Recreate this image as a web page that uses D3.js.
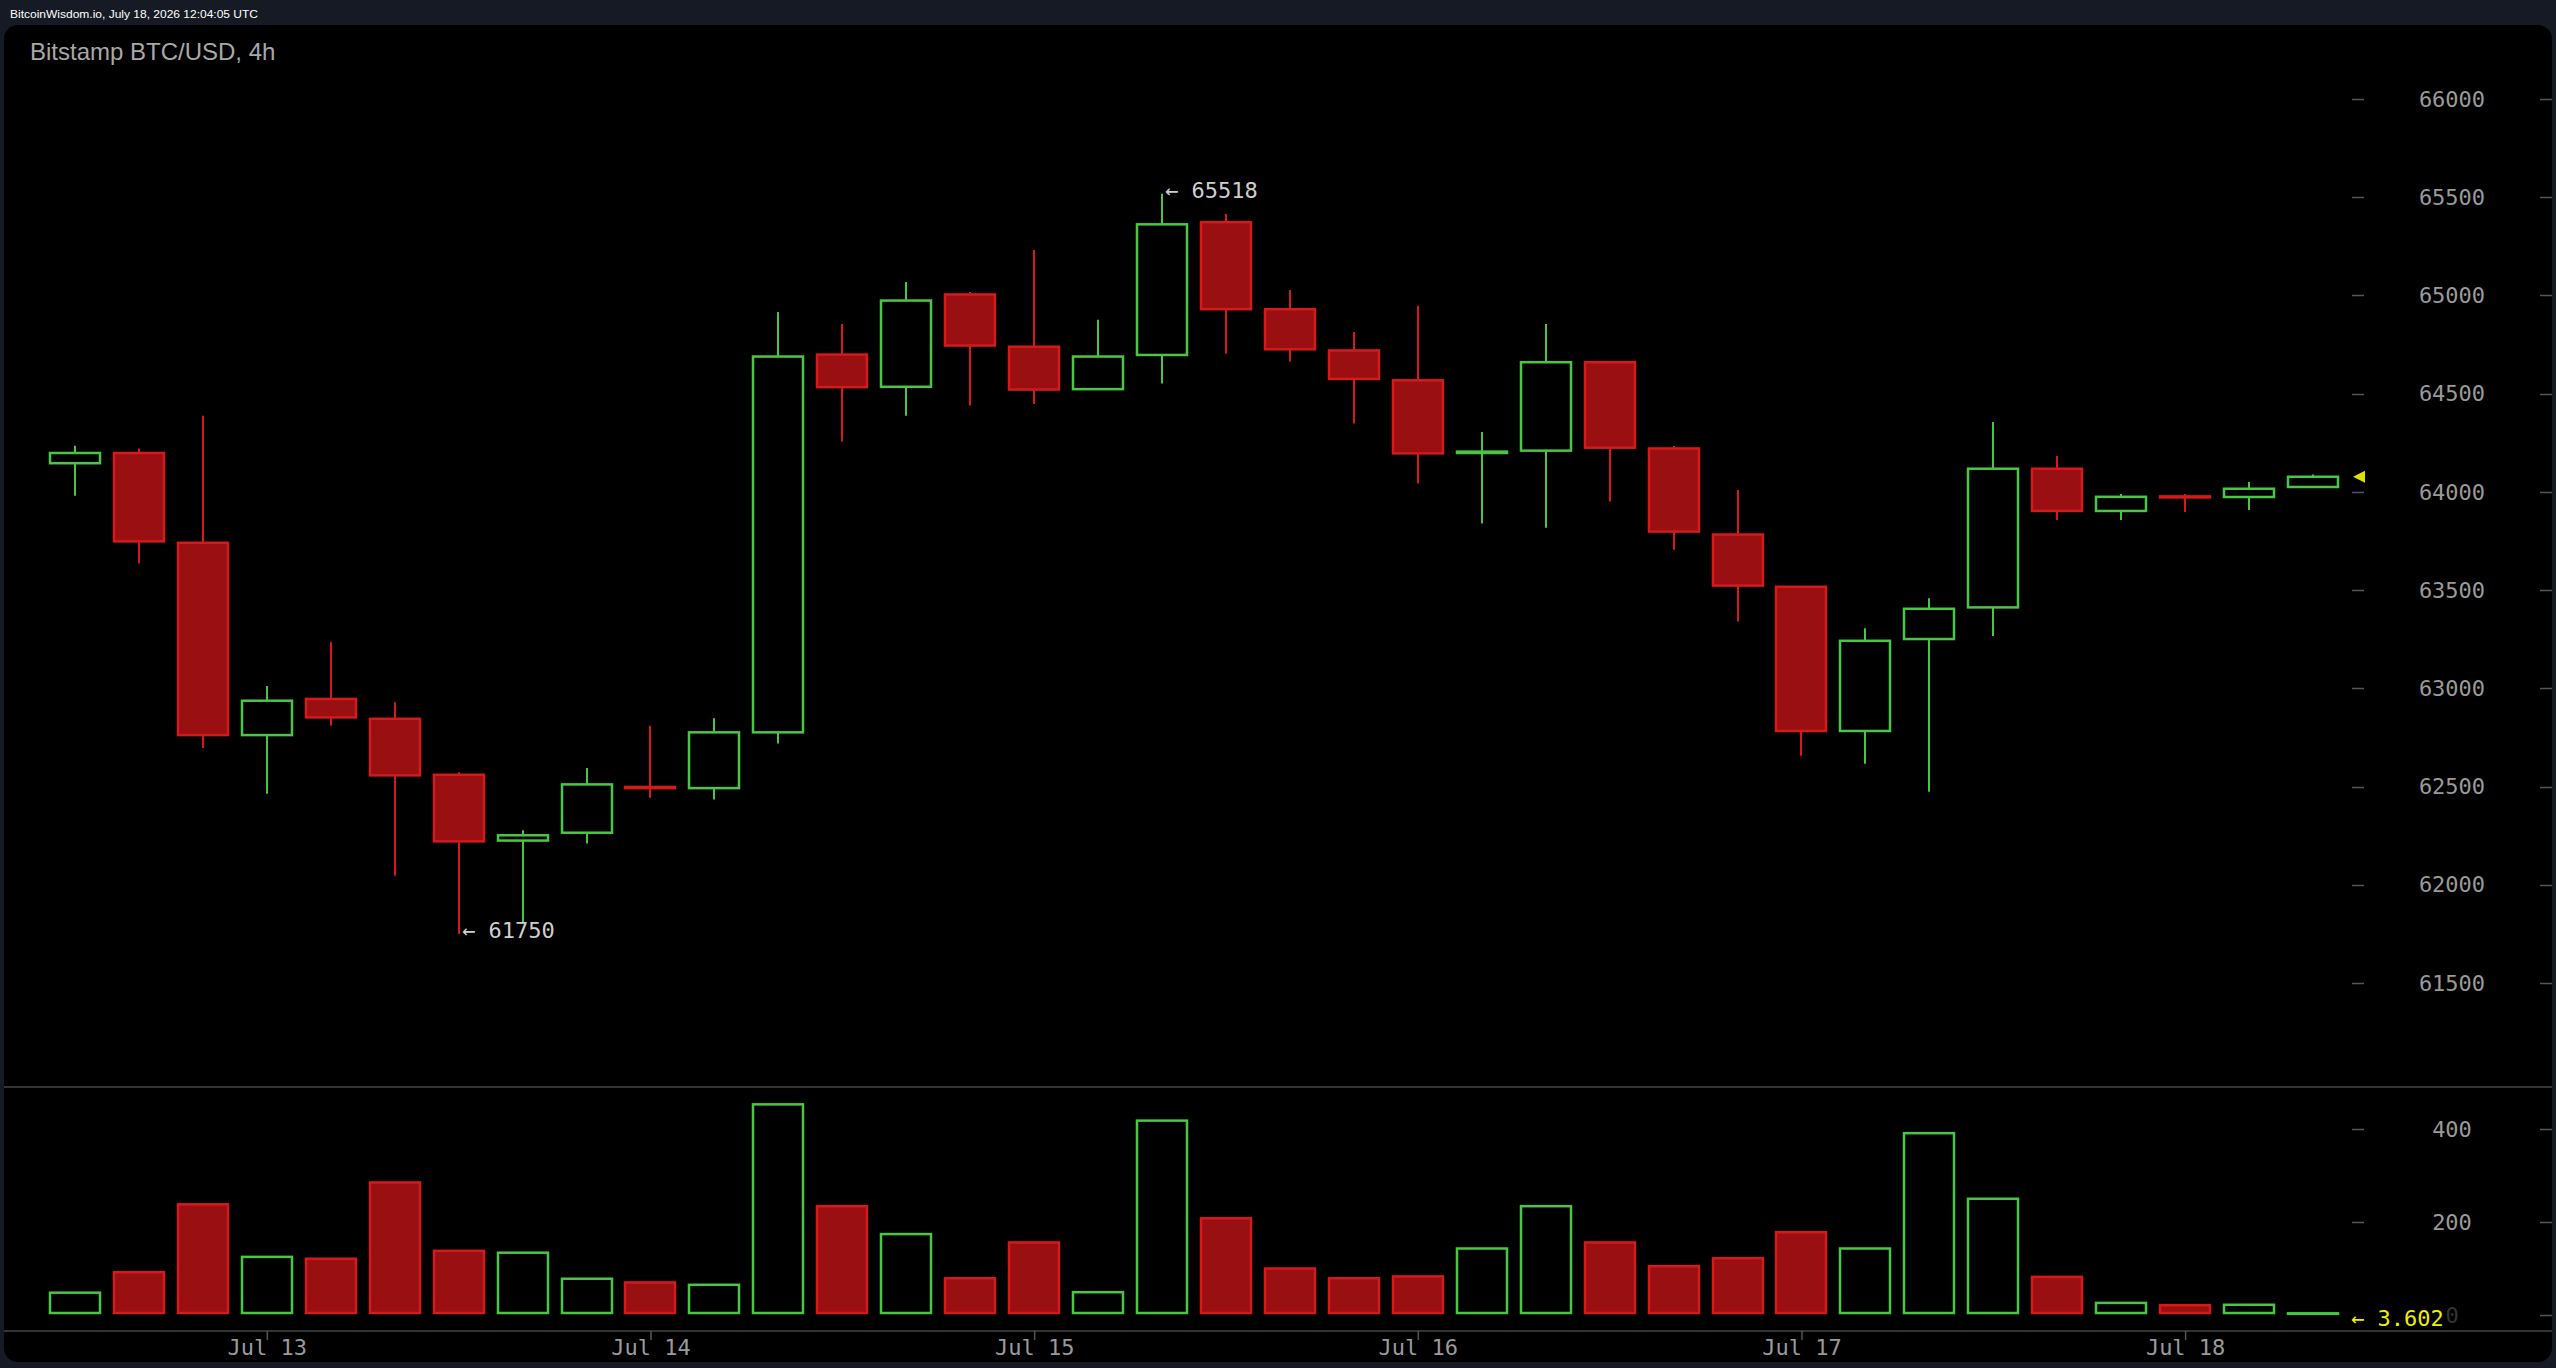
<!DOCTYPE html>
<html>
<head>
<meta charset="utf-8">
<script src="https://cdn.jsdelivr.net/npm/d3@7"></script>
<style>
  html, body { margin: 0; padding: 0; background: #161a24; }
  svg { display: block; }
</style>
</head>
<body>
<svg id="chart" width="2556" height="1368"></svg>
<script>
// ---------------- DATA ----------------
const title = "Bitstamp BTC/USD, 4h";
const headerText = "BitcoinWisdom.io, July 18, 2026 12:04:05 UTC";
const startTime = "2026-07-12T12:00:00Z";   // first 4h candle
const intervalHours = 4;

const open  = [64146,64198,63741,62762,62946,62845,62560,62225,62265,62498,62492,62776,64699,64535,65005,64739,64523,64697,65373,64930,64720,64568,64198,64210,64660,64221,63783,63517,62783,63251,63412,64118,63903,63977,63974,64025];
const high  = [64235,64221,64387,63012,63236,62929,62573,62278,62594,62809,62848,64916,64855,65069,65017,65231,64876,65518,65414,65028,64814,64947,64305,64855,64662,64234,64010,63520,63306,63458,64356,64183,63989,63989,64050,64089];
const low   = [63980,63635,62696,62464,62809,62046,61750,61811,62210,62443,62434,62719,64257,64388,64440,64448,64520,64552,64703,64664,64348,64043,63839,63818,63951,63706,63340,62657,62616,62474,63266,63857,63857,63898,63908,64020];
const close = [64198,63748,62762,62937,62852,62557,62221,62252,62511,62492,62776,64689,64533,64974,64745,64521,64689,65362,64930,64726,64575,64196,64205,64660,64225,63798,63523,62783,63242,63405,64118,63903,63975,63972,64016,64077];
const volume = [48,92,238,125,121,285,138,134,78,70,65,453,234,174,79,156,49,418,208,100,79,83,143,234,156,105,122,178,143,391,250,82,26,21,22,3.602];

const priceTicks = [61500,62000,62500,63000,63500,64000,64500,65000,65500,66000];
const volumeTicks = [0,200,400];
const highLabel = 65518;
const lowLabel = 61750;
const lastVolumeLabel = "3.602";

// ---------------- STYLE ----------------
const GREEN = "#4ac545";
const RED_STROKE = "#d41a1a";
const RED_FILL = "#9a0f12";
const MONO = "'DejaVu Sans Mono', monospace";

const t0 = new Date(startTime);
const times = open.map((_, i) => d3.utcHour.offset(t0, i * intervalHours));
const candles = times.map((t, i) => ({t, o: open[i], h: high[i], l: low[i], c: close[i], v: volume[i], i}));

const svg = d3.select("#chart");

// scales
const x = d3.scaleUtc().domain([times[0], times[times.length - 1]]).range([75, 2313]);
const y = d3.scaleLinear().domain([61500, 66000]).range([983, 99]);
const yv = d3.scaleLinear().domain([0, 400]).range([1315, 1129]);

// header text
svg.append("text").attr("x", 10).attr("y", 18)
  .attr("fill", "#ffffff").attr("font-family", "'Liberation Sans', Arial, sans-serif")
  .attr("font-size", 11).attr("textLength", 248).attr("lengthAdjust", "spacingAndGlyphs")
  .text(headerText);

// panel
svg.append("rect").attr("x", 4).attr("y", 25).attr("width", 2548).attr("height", 1337)
  .attr("rx", 14).attr("fill", "#000");

// title
svg.append("text").attr("x", 30).attr("y", 60)
  .attr("fill", "#a8a8a8").attr("font-family", "'Liberation Sans', Arial, sans-serif")
  .attr("font-size", 24).text(title);

// separator lines
svg.append("line").attr("x1", 4).attr("x2", 2552).attr("y1", 1087).attr("y2", 1087)
  .attr("stroke", "#444").attr("stroke-width", 1.5);
svg.append("line").attr("x1", 4).attr("x2", 2552).attr("y1", 1331).attr("y2", 1331)
  .attr("stroke", "#444").attr("stroke-width", 1.5);

// price axis (labels centered, ticks on both sides)
const pa = svg.append("g");
priceTicks.forEach(v => {
  const yy = Math.round(y(v)) + 0.5;
  pa.append("line").attr("x1", 2352).attr("x2", 2364).attr("y1", yy).attr("y2", yy).attr("stroke", "#555").attr("stroke-width", 1.5);
  pa.append("line").attr("x1", 2540).attr("x2", 2552).attr("y1", yy).attr("y2", yy).attr("stroke", "#555").attr("stroke-width", 1.5);
  pa.append("text").attr("x", 2452).attr("y", y(v)).attr("dy", "0.35em")
    .attr("text-anchor", "middle").attr("fill", "#9a9a9a")
    .attr("font-family", MONO).attr("font-size", 22).text(v);
});

// volume axis
volumeTicks.forEach(v => {
  const yy = Math.round(yv(v)) + 0.5;
  if (v !== 0) pa.append("line").attr("x1", 2352).attr("x2", 2364).attr("y1", yy).attr("y2", yy).attr("stroke", "#555").attr("stroke-width", 1.5);
  pa.append("line").attr("x1", 2540).attr("x2", 2552).attr("y1", yy).attr("y2", yy).attr("stroke", "#555").attr("stroke-width", 1.5);
  pa.append("text").attr("x", 2452).attr("y", yv(v)).attr("dy", "0.35em")
    .attr("text-anchor", "middle").attr("fill", v === 0 ? "#333" : "#9a9a9a")
    .attr("font-family", MONO).attr("font-size", 22).text(v);
});

// x axis
const xAxis = d3.axisBottom(x).ticks(d3.utcDay.every(1)).tickFormat(d3.utcFormat("%b %d"))
  .tickSize(9).tickPadding(-1);
const xg = svg.append("g").attr("transform", "translate(0,1331)").call(xAxis);
xg.select(".domain").remove();
xg.selectAll(".tick line").attr("stroke", "#555").attr("stroke-width", 1.5);
xg.selectAll(".tick text").attr("fill", "#9a9a9a").attr("font-family", MONO).attr("font-size", 22);

// candles
const BW = 50;
const cg = svg.append("g");
candles.forEach(d => {
  const up = d.c >= d.o;
  const col = up ? GREEN : RED_STROKE;
  const cx = Math.round(x(d.t));
  const top = y(Math.max(d.o, d.c)), bot = y(Math.min(d.o, d.c));
  // wicks
  cg.append("line").attr("x1", cx).attr("x2", cx).attr("y1", y(d.h)).attr("y2", top)
    .attr("stroke", col).attr("stroke-width", 2);
  cg.append("line").attr("x1", cx).attr("x2", cx).attr("y1", bot).attr("y2", y(d.l))
    .attr("stroke", col).attr("stroke-width", 2);
  cg.append("rect").attr("x", cx - BW / 2).attr("y", top).attr("width", BW)
    .attr("height", Math.max(0.5, bot - top))
    .attr("fill", up ? "#000" : RED_FILL).attr("stroke", col).attr("stroke-width", 2.5);
  // volume bar
  const vt = yv(d.v);
  cg.append("rect").attr("x", cx - BW / 2).attr("y", vt).attr("width", BW)
    .attr("height", Math.max(0.5, yv(0) - 2 - vt))
    .attr("fill", up ? "#000" : RED_FILL).attr("stroke", col).attr("stroke-width", 2.5);
});

// high / low annotations
const hiC = candles.find(d => d.h === highLabel);
const loC = candles.find(d => d.l === lowLabel);
[[hiC, highLabel, hiC.h], [loC, lowLabel, loC.l]].forEach(([d, lab, v]) => {
  svg.append("text").attr("x", Math.round(x(d.t)) + 3).attr("y", y(v) + 4.5)
    .attr("fill", "#cfcfcf").attr("font-family", MONO).attr("font-size", 22)
    .text("\u2190 " + lab);
});

// current price marker
const last = candles[candles.length - 1];
const yc = y(last.c);
svg.append("path").attr("d", `M2353,${yc} L2365,${yc - 6} L2365,${yc + 6} Z`).attr("fill", "#e0e000");

// last volume label
svg.append("text").attr("x", 2351).attr("y", yv(0) + 3).attr("dy", "0.35em")
  .attr("fill", "#f0f000").attr("font-family", MONO).attr("font-size", 22)
  .text("\u2190 " + lastVolumeLabel);
</script>
</body>
</html>
